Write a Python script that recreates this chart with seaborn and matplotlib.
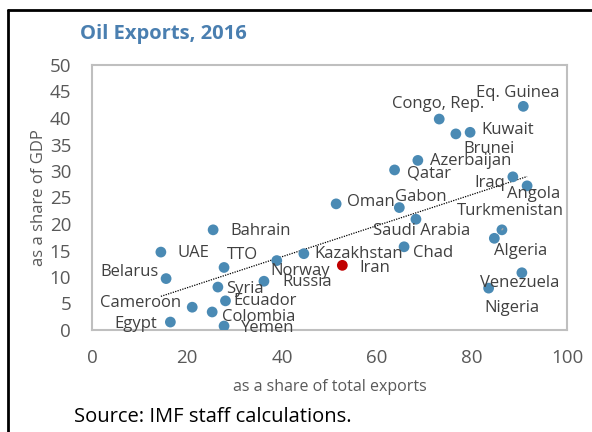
import numpy as np
import pandas as pd
import matplotlib
matplotlib.use('Agg')
import matplotlib.pyplot as plt
import seaborn as sns
from matplotlib.lines import Line2D

# 데이터
countries = ['Eq. Guinea', 'Congo, Rep.', 'Brunei', 'Kuwait', 'Azerbaijan', 'Qatar',
             'Iraq', 'Angola', 'Oman', 'Gabon', 'Saudi Arabia', 'Turkmenistan',
             'Algeria', 'Chad', 'Iran', 'Venezuela', 'Nigeria', 'Kazakhstan',
             'Bahrain', 'UAE', 'TTO', 'Norway', 'Russia', 'Belarus', 'Syria',
             'Ecuador', 'Cameroon', 'Colombia', 'Egypt', 'Yemen']
share_exports = [90.8, 73.1, 76.6, 79.6, 68.6, 63.7,
                 88.6, 91.6, 51.4, 64.7, 68.2, 86.3,
                 84.7, 65.7, 52.7, 90.5, 83.5, 44.6,
                 25.5, 14.5, 27.8, 38.9, 36.2, 15.6, 26.5,
                 28.1, 21.1, 25.3, 16.5, 27.8]
share_gdp = [42.2, 39.8, 37.0, 37.3, 32.0, 30.2,
             28.9, 27.2, 23.8, 23.1, 20.9, 18.9,
             17.3, 15.7, 12.2, 10.8, 7.9, 14.4,
             18.9, 14.7, 11.8, 13.1, 9.2, 9.7, 8.1,
             5.5, 4.3, 3.4, 1.5, 0.75]
highlight = 'Iran'

# 라벨 위치 (점 기준 pixel offset, ha)
label_pos = {
    'Eq. Guinea': (-47, 13, 'left'), 'Congo, Rep.': (-47, 15, 'left'),
    'Brunei': (8, -15, 'left'), 'Kuwait': (11, 2, 'left'),
    'Azerbaijan': (12, -1, 'left'), 'Qatar': (12, -4, 'left'),
    'Iraq': (-8, -6, 'right'), 'Angola': (-20, -8, 'left'),
    'Oman': (11, 2, 'left'), 'Gabon': (-4, 11, 'left'),
    'Saudi Arabia': (-43, -12, 'left'), 'Turkmenistan': (-45, 19, 'left'),
    'Algeria': (0, -13, 'left'), 'Chad': (9, -6, 'left'),
    'Iran': (17, -3, 'left'), 'Venezuela': (-42, -10, 'left'),
    'Nigeria': (-4, -20, 'left'), 'Kazakhstan': (11, 0, 'left'),
    'Bahrain': (17, -1, 'left'), 'UAE': (17, -1, 'left'),
    'TTO': (3, 12, 'left'), 'Norway': (-6, -10, 'left'),
    'Russia': (18, -1, 'left'), 'Belarus': (-7, 7, 'right'),
    'Syria': (8, -2, 'left'), 'Ecuador': (8, 0, 'left'),
    'Cameroon': (-11, 4, 'right'), 'Colombia': (10, -5, 'left'),
    'Egypt': (-13, -2, 'right'), 'Yemen': (17, -2, 'left'),
}

df = pd.DataFrame({'country': countries, 'exports': share_exports, 'gdp': share_gdp})
df['group'] = np.where(df['country'] == highlight, 'hl', 'other')

sns.set_style('white')
plt.rcParams['font.family'] = ['Open Sans', 'DejaVu Sans']

grey = '#bfbfbf'
txt = '#404040'
lab_fs = 12

fig = plt.figure(figsize=(5.92, 4.32), dpi=100)
ax = fig.add_axes([92/592, 102/432, 475/592, 265/432])

# 추세선 + 산점도
sns.regplot(x='exports', y='gdp', data=df, scatter=False, ci=None, ax=ax,
            line_kws={'color': 'black', 'linestyle': (0, (1, 1)), 'linewidth': 0.9})
sns.scatterplot(x='exports', y='gdp', data=df, hue='group',
                palette={'other': '#4a8ab4', 'hl': '#c00000'},
                s=60, edgecolor='none', legend=False, ax=ax, zorder=3)

for _, r in df.iterrows():
    dx, dy, ha = label_pos[r['country']]
    if r['country'] == 'Turkmenistan':
        ax.annotate(r['country'], (r['exports'], r['gdp']), xytext=(dx, dy),
                    textcoords='offset pixels', ha=ha, va='center', fontsize=lab_fs, color=txt,
                    arrowprops=dict(arrowstyle='-', color='#a6a6a6', lw=1,
                                    shrinkA=6, shrinkB=4, relpos=(0.5, 0)))
    else:
        ax.annotate(r['country'], (r['exports'], r['gdp']), xytext=(dx, dy),
                    textcoords='offset pixels', ha=ha, va='center', fontsize=lab_fs, color=txt)

ax.set_xlim(0, 100)
ax.set_ylim(0, 50)
ax.set_xticks(range(0, 101, 20))
ax.set_yticks(range(0, 51, 5))
ax.tick_params(direction='in', length=6, width=1.2, color=grey, labelcolor='#595959',
               labelsize=13.5)
ax.tick_params(axis='y', pad=15)
ax.tick_params(axis='x', pad=14)
for s in ax.spines.values():
    s.set_visible(True)
    s.set_color(grey)
    s.set_linewidth(1.5)
ax.set_xlabel('as a share of total exports', fontsize=11.5, color='#595959', labelpad=8)
ax.set_ylabel('as a share of GDP', fontsize=12, color='#595959', labelpad=2)

fig.text(80/592, 1 - 34/432, 'Oil Exports, 2016', fontsize=14.5, fontweight='bold',
         color='#4a7fb0', va='center', ha='left')
fig.text(74/592, 1 - 417/432, 'Source: IMF staff calculations.', fontsize=14.5,
         color='black', va='center', ha='left')

# 왼쪽/위 테두리
fig.add_artist(Line2D([8/592, 8/592], [0, 1 - 10/432], transform=fig.transFigure,
                      color='black', lw=2))
fig.add_artist(Line2D([8/592, 1], [1 - 10/432, 1 - 10/432], transform=fig.transFigure,
                      color='black', lw=2))

fig.savefig('out.png', dpi=100)
